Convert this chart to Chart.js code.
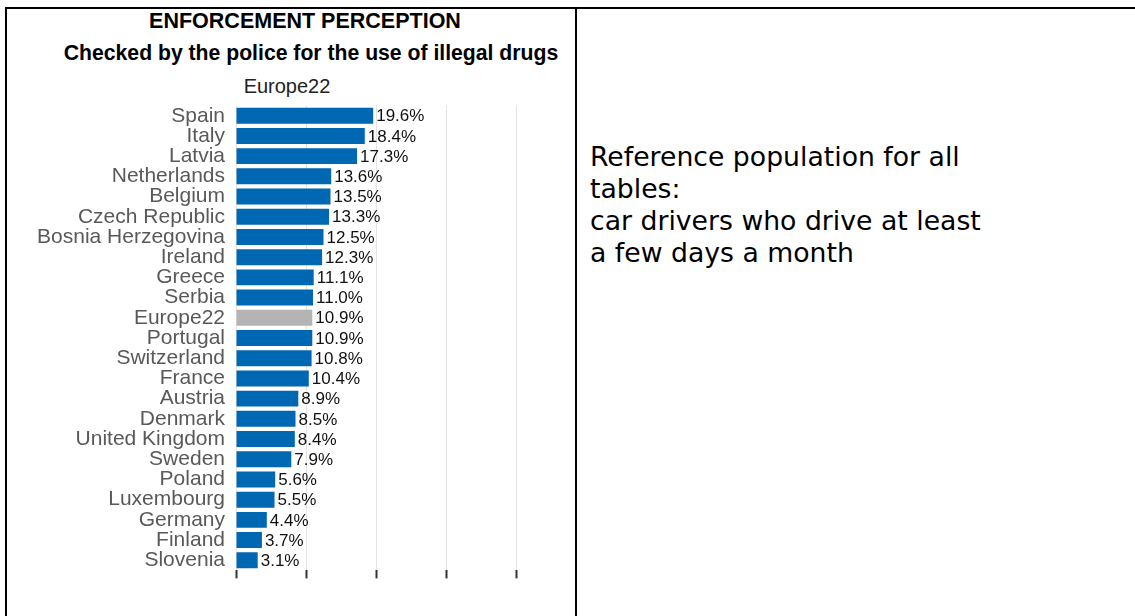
<!DOCTYPE html>
<html>
<head>
<meta charset="utf-8">
<script src="https://cdn.jsdelivr.net/npm/chart.js@4.4.1/dist/chart.umd.min.js"></script>
<style>
  html, body { margin: 0; padding: 0; background: #fff; }
  body { width: 1135px; height: 616px; position: relative; overflow: hidden; font-family: "Liberation Sans", Arial, sans-serif; }
  .line { position: absolute; background: #000; }
  .t { position: absolute; width: 600px; text-align: center; white-space: nowrap; color: #000; }
  #chartBox { position: absolute; left: 8px; top: 82px; width: 560px; height: 512px; }
  #note { position: absolute; left: 590px; top: 141px; font-family: "DejaVu Sans", Verdana, sans-serif; font-size: 26.7px; line-height: 32px; color: #000; }
</style>
</head>
<body>
<div class="line" style="left:5px; top:7px; width:1130px; height:2px;"></div>
<div class="line" style="left:5px; top:7px; width:2px; height:609px;"></div>
<div class="line" style="left:575px; top:7px; width:2px; height:609px;"></div>

<div class="t" style="left:5px; top:8px; font-weight:bold; font-size:21.5px; line-height:26px;">ENFORCEMENT PERCEPTION</div>
<div class="t" style="left:11px; top:40px; font-weight:bold; font-size:21.2px; line-height:26px;">Checked by the police for the use of illegal drugs</div>
<div class="t" style="left:-13px; top:74px; font-size:20px; line-height:24px; color:#222;">Europe22</div>

<div id="chartBox"><canvas id="c"></canvas></div>

<div id="note">Reference population for all<br>tables:<br>car drivers who drive at least<br>a few days a month</div>

<script>
const categories = ["Spain","Italy","Latvia","Netherlands","Belgium","Czech Republic","Bosnia Herzegovina","Ireland","Greece","Serbia","Europe22","Portugal","Switzerland","France","Austria","Denmark","United Kingdom","Sweden","Poland","Luxembourg","Germany","Finland","Slovenia"];
const values = [19.6,18.4,17.3,13.6,13.5,13.3,12.5,12.3,11.1,11.0,10.9,10.9,10.8,10.4,8.9,8.5,8.4,7.9,5.6,5.5,4.4,3.7,3.1];
const xTicks = [0,10,20,30,40];
const highlight = "Europe22";

const BLUE = "#0067B2";
const GREY = "#B4B4B4";

const valueLabels = {
  id: "valueLabels",
  afterDatasetsDraw(chart) {
    const ctx = chart.ctx;
    const meta = chart.getDatasetMeta(0);
    ctx.save();
    ctx.font = "17px 'Liberation Sans', Arial, sans-serif";
    ctx.fillStyle = "#111";
    ctx.textAlign = "left";
    ctx.textBaseline = "middle";
    meta.data.forEach((bar, i) => {
      ctx.fillText(values[i].toFixed(1) + "%", bar.x + 3, bar.y + 1);
    });
    ctx.restore();
  }
};

new Chart(document.getElementById("c"), {
  type: "bar",
  data: {
    labels: categories,
    datasets: [{
      data: values,
      backgroundColor: categories.map(c => c === highlight ? GREY : BLUE),
      borderWidth: 0,
      categoryPercentage: 1.0,
      barPercentage: 0.79
    }]
  },
  options: {
    indexAxis: "y",
    responsive: true,
    maintainAspectRatio: false,
    animation: false,
    layout: { padding: { left: 0, right: 52, top: 7, bottom: 6 } },
    plugins: { legend: { display: false }, tooltip: { enabled: false }, title: { display: false } },
    scales: {
      x: {
        type: "linear",
        min: xTicks[0],
        max: xTicks[xTicks.length - 1],
        afterBuildTicks(scale) { scale.ticks = xTicks.map(v => ({ value: v })); },
        afterFit(scale) { scale.height = 10; },
        border: { display: false },
        grid: { color: "#e4e4e4", lineWidth: 1, drawTicks: true, tickLength: 8, tickColor: "#333", tickWidth: 2 },
        ticks: { callback: () => "", padding: 0, font: { size: 1 } }
      },
      y: {
        afterFit(scale) { scale.width = 228; },
        border: { display: false },
        grid: { display: false, drawTicks: false },
        ticks: { color: "#595959", padding: 11, autoSkip: false, font: { family: "'Liberation Sans', Arial, sans-serif", size: 21 } }
      }
    }
  },
  plugins: [valueLabels]
});
</script>
</body>
</html>
